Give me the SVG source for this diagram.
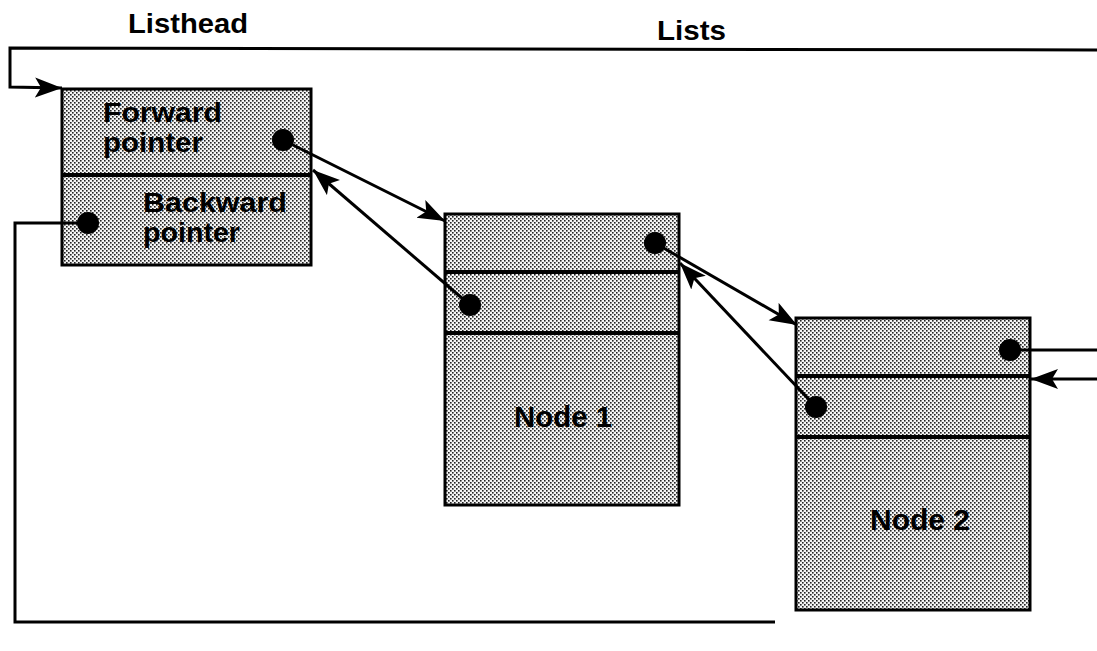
<svg xmlns="http://www.w3.org/2000/svg" width="1097" height="651" viewBox="0 0 1097 651">
<defs>
<pattern id="dots" width="4" height="4" patternUnits="userSpaceOnUse">
<rect width="4" height="4" fill="#f4f4f4"/>
<rect x="0" y="0" width="1.6" height="1.6" fill="#222"/>
<rect x="2" y="2" width="1.6" height="1.6" fill="#222"/>
</pattern>
<marker id="arr" markerUnits="userSpaceOnUse" markerWidth="30" markerHeight="22" refX="27" refY="10" orient="auto">
<path d="M0,0 L27,10 L0,20 L6,10 Z" fill="#000"/>
</marker>
</defs>
<style>
.box{fill:url(#dots);stroke:#000;stroke-width:3}
.div{stroke:#000;stroke-width:4}
.ln{fill:none;stroke:#000;stroke-width:3}
.t{font-family:"Liberation Sans",Arial,sans-serif;font-weight:bold;fill:#000}
.dot{fill:#000}
</style>
<text class="t" x="128" y="33" font-size="28" textLength="120" lengthAdjust="spacingAndGlyphs">Listhead</text>
<text class="t" x="657" y="40" font-size="28" textLength="69" lengthAdjust="spacingAndGlyphs">Lists</text>
<g id="listhead">
<rect class="box" x="62" y="89" width="249" height="176"/>
<line class="div" x1="62" y1="175" x2="311" y2="175"/>
<text class="t" x="103" y="122" font-size="28" textLength="119" lengthAdjust="spacingAndGlyphs">Forward</text>
<text class="t" x="103" y="152" font-size="28" textLength="100" lengthAdjust="spacingAndGlyphs">pointer</text>
<text class="t" x="143" y="212" font-size="28" textLength="144" lengthAdjust="spacingAndGlyphs">Backward</text>
<text class="t" x="143" y="242" font-size="28" textLength="97" lengthAdjust="spacingAndGlyphs">pointer</text>
<circle class="dot" cx="283" cy="140" r="11"/>
<circle class="dot" cx="88" cy="223" r="11"/>
</g>
<g id="node1">
<rect class="box" x="445" y="214" width="234" height="291"/>
<line class="div" x1="445" y1="272" x2="679" y2="272"/>
<line class="div" x1="445" y1="333" x2="679" y2="333"/>
<text class="t" x="514" y="427" font-size="30" textLength="98" lengthAdjust="spacingAndGlyphs">Node 1</text>
<circle class="dot" cx="655" cy="243" r="11"/>
<circle class="dot" cx="470" cy="305" r="11"/>
</g>
<g id="node2">
<rect class="box" x="796" y="318" width="234" height="292"/>
<line class="div" x1="796" y1="376" x2="1030" y2="376"/>
<line class="div" x1="796" y1="437" x2="1030" y2="437"/>
<text class="t" x="870" y="530" font-size="30" textLength="100" lengthAdjust="spacingAndGlyphs">Node 2</text>
<circle class="dot" cx="1010" cy="350" r="11"/>
<circle class="dot" cx="816" cy="407" r="11"/>
</g>
<g id="connectors">
<polyline class="ln" points="1097,50 10,48 10,87 62,88" marker-end="url(#arr)"/>
<polyline class="ln" points="88,223 15,223 15,622 775,622"/>
<line class="ln" x1="283" y1="140" x2="445" y2="221" marker-end="url(#arr)"/>
<line class="ln" x1="470" y1="305" x2="313" y2="170" marker-end="url(#arr)"/>
<line class="ln" x1="655" y1="243" x2="797" y2="325" marker-end="url(#arr)"/>
<line class="ln" x1="816" y1="407" x2="680" y2="263" marker-end="url(#arr)"/>
<line class="ln" x1="1010" y1="350" x2="1097" y2="350"/>
<line class="ln" x1="1097" y1="379" x2="1031" y2="379" marker-end="url(#arr)"/>
</g>
</svg>
